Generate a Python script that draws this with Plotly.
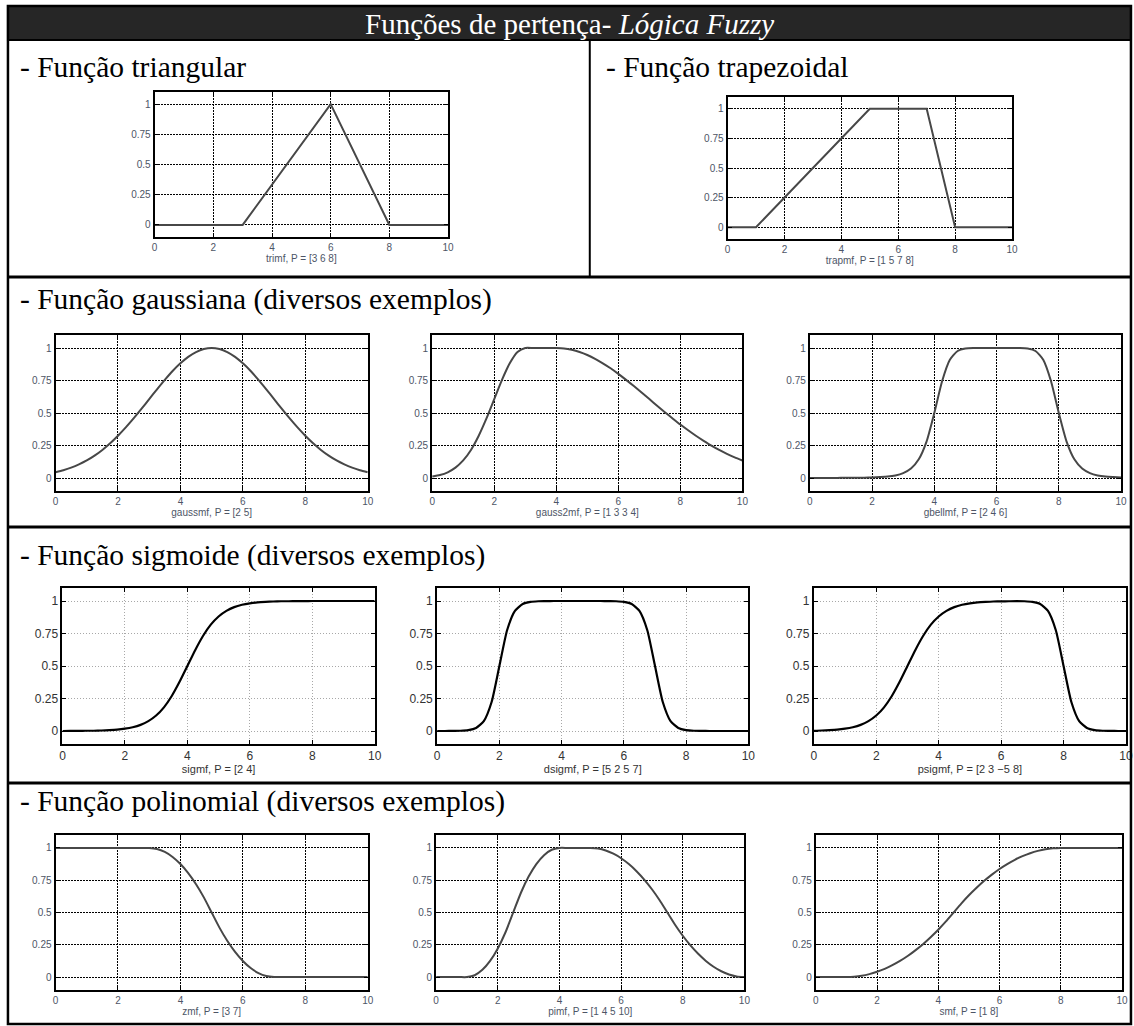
import plotly.graph_objects as go

# ---------------- data ----------------
X_TRI = [0, 3, 6, 8, 10]
Y_TRI = [0, 0, 1, 0, 0]

X_TRAP = [0, 1, 5, 7, 8, 10]
Y_TRAP = [0, 0, 1, 1, 0, 0]

X_SMOOTH = [0, 0.25, 0.5, 0.75, 1, 1.25, 1.5, 1.75, 2, 2.25, 2.5, 2.75, 3, 3.25, 3.5, 3.75,
            4, 4.25, 4.5, 4.75, 5, 5.25, 5.5, 5.75, 6, 6.25, 6.5, 6.75, 7, 7.25, 7.5, 7.75,
            8, 8.25, 8.5, 8.75, 9, 9.25, 9.5, 9.75, 10]

Y_GAUSS = [0.044, 0.060, 0.080, 0.105, 0.135, 0.172, 0.216, 0.267, 0.325, 0.389, 0.458, 0.531, 0.607, 0.682, 0.755, 0.823,
           0.882, 0.932, 0.969, 0.992, 1.000, 0.992, 0.969, 0.932, 0.882, 0.823, 0.755, 0.682, 0.607, 0.531, 0.458, 0.389,
           0.325, 0.267, 0.216, 0.172, 0.135, 0.105, 0.080, 0.060, 0.044]

Y_GAUSS2 = [0.011, 0.023, 0.044, 0.080, 0.135, 0.216, 0.325, 0.458, 0.607, 0.755, 0.882, 0.969, 1.0, 1.0, 1.0, 1.0,
            1.0, 0.997, 0.986, 0.969, 0.946, 0.917, 0.882, 0.844, 0.801, 0.755, 0.707, 0.657, 0.607, 0.556, 0.506, 0.458,
            0.411, 0.367, 0.325, 0.286, 0.249, 0.216, 0.186, 0.159, 0.135]

Y_GBELL = [0.000, 0.000, 0.000, 0.000, 0.001, 0.001, 0.002, 0.002, 0.004, 0.007, 0.011, 0.020, 0.038, 0.073, 0.144, 0.280,
           0.500, 0.744, 0.909, 0.977, 0.996, 1.0, 1.0, 1.0, 1.0, 1.0, 1.0, 1.0, 0.996, 0.977, 0.909, 0.744,
           0.500, 0.280, 0.144, 0.073, 0.038, 0.020, 0.011, 0.007, 0.004]

Y_SIG = [0.000, 0.001, 0.001, 0.002, 0.002, 0.004, 0.007, 0.011, 0.018, 0.029, 0.047, 0.076, 0.119, 0.182, 0.269, 0.378,
         0.500, 0.622, 0.731, 0.818, 0.881, 0.924, 0.953, 0.971, 0.982, 0.989, 0.993, 0.996, 0.998, 0.998, 0.999, 0.999,
         1.0, 1.0, 1.0, 1.0, 1.0, 1.0, 1.0, 1.0, 1.0]

Y_DSIG = [0.000, 0.000, 0.001, 0.002, 0.007, 0.023, 0.076, 0.223, 0.500, 0.777, 0.924, 0.977, 0.993, 0.998, 0.999, 1.0,
          1.0, 1.0, 1.0, 1.0, 1.0, 1.0, 0.999, 0.998, 0.993, 0.977, 0.924, 0.777, 0.500, 0.223, 0.076, 0.023,
          0.007, 0.002, 0.001, 0.000, 0.000, 0.000, 0.000, 0.000, 0.000]

Y_PSIG = [0.002, 0.004, 0.007, 0.011, 0.018, 0.029, 0.047, 0.076, 0.119, 0.182, 0.269, 0.378, 0.500, 0.622, 0.731, 0.818,
          0.881, 0.924, 0.953, 0.971, 0.982, 0.989, 0.993, 0.996, 0.997, 0.998, 0.999, 0.998, 0.993, 0.977, 0.924, 0.777,
          0.500, 0.223, 0.076, 0.023, 0.007, 0.002, 0.001, 0.000, 0.000]

Y_ZMF = [1.0, 1.0, 1.0, 1.0, 1.0, 1.0, 1.0, 1.0, 1.0, 1.0, 1.0, 1.0, 1.0, 0.992, 0.969, 0.930,
         0.875, 0.805, 0.719, 0.617, 0.500, 0.383, 0.281, 0.195, 0.125, 0.070, 0.031, 0.008, 0.000, 0.0, 0.0, 0.0,
         0.0, 0.0, 0.0, 0.0, 0.0, 0.0, 0.0, 0.0, 0.0]

Y_PIMF = [0.0, 0.0, 0.0, 0.0, 0.0, 0.014, 0.056, 0.125, 0.222, 0.347, 0.500, 0.653, 0.778, 0.875, 0.944, 0.986,
          1.0, 1.0, 1.0, 1.0, 1.0, 0.995, 0.980, 0.955, 0.920, 0.875, 0.820, 0.755, 0.680, 0.595, 0.500, 0.405,
          0.320, 0.245, 0.180, 0.125, 0.080, 0.045, 0.020, 0.005, 0.000]

Y_SMF = [0.0, 0.0, 0.0, 0.0, 0.0, 0.003, 0.010, 0.023, 0.041, 0.064, 0.092, 0.125, 0.163, 0.207, 0.255, 0.309,
         0.367, 0.431, 0.500, 0.569, 0.633, 0.691, 0.745, 0.793, 0.837, 0.875, 0.908, 0.936, 0.959, 0.977, 0.990, 0.997,
         1.0, 1.0, 1.0, 1.0, 1.0, 1.0, 1.0, 1.0, 1.0]

X_TICKS = [0, 2, 4, 6, 8, 10]
Y_TICKS = [0, 0.25, 0.5, 0.75, 1]
Y_TICK_TEXT = ["0", "0.25", "0.5", "0.75", "1"]

HEADER = "Funções de pertença- <i>Lógica Fuzzy</i>"
ROW_LABELS = ["- Função triangular", "- Função trapezoidal",
              "- Função gaussiana (diversos exemplos)",
              "- Função sigmoide (diversos exemplos)",
              "- Função polinomial (diversos exemplos)"]

XLABELS = ["trimf, P = [3 6 8]", "trapmf, P = [1 5 7 8]",
           "gaussmf, P = [2 5]", "gauss2mf, P = [1 3 3 4]", "gbellmf, P = [2 4 6]",
           "sigmf, P = [2 4]", "dsigmf, P = [5 2 5 7]", "psigmf, P = [2 3 \u22125 8]",
           "zmf, P = [3 7]", "pimf, P = [1 4 5 10]", "smf, P = [1 8]"]

SERIES = [(X_TRI, Y_TRI), (X_TRAP, Y_TRAP),
          (X_SMOOTH, Y_GAUSS), (X_SMOOTH, Y_GAUSS2), (X_SMOOTH, Y_GBELL),
          (X_SMOOTH, Y_SIG), (X_SMOOTH, Y_DSIG), (X_SMOOTH, Y_PSIG),
          (X_SMOOTH, Y_ZMF), (X_SMOOTH, Y_PIMF), (X_SMOOTH, Y_SMF)]

# ---------------- layout geometry (pixels) ----------------
W, H = 1134, 1026


def fx(p):
    return p / W


def fy(p):
    return 1 - p / H


# box: x0, x1, ytop, ybottom ; style
BOXES = [
    (153, 449, 92, 237, "old"), (731, 1018, 97, 239, "old"),
    (53, 368, 335, 491, "old"), (433, 746, 335, 491, "old"), (814, 1128, 335, 491, "old"),
    (60, 375, 588, 744, "new"), (438, 752, 588, 744, "new"), (818, 1133, 588, 744, "new"),
    (53, 368, 835, 990, "old"), (437, 748, 835, 990, "old"), (820, 1129, 835, 990, "old"),
]

fig = go.Figure()
layout = dict(
    width=W, height=H, margin=dict(l=0, r=0, t=0, b=0),
    paper_bgcolor="white", plot_bgcolor="white", showlegend=False,
)

for i, ((xs, ys), (x0, x1, yt, yb, style), xl) in enumerate(zip(SERIES, BOXES, XLABELS)):
    n = i + 1
    sfx = "" if n == 1 else str(n)
    smooth = xs is X_SMOOTH
    if style == "old":
        lc, lw = "#474747", 2.0
    else:
        lc, lw = "#000000", 2.2
    fig.add_trace(go.Scatter(
        x=xs, y=ys, mode="lines",
        line=dict(color=lc, width=lw, shape="spline" if smooth else "linear",
                  smoothing=0.6 if smooth else None),
        xaxis="x" + sfx, yaxis="y" + sfx, hoverinfo="skip"))
    if style == "old":
        grid = dict(showgrid=True, gridcolor="#000000", gridwidth=1.2, griddash="2px,1px")
        tf = dict(family="Liberation Sans, Arial", size=10, color="#4d5566")
        tif = dict(family="Liberation Sans, Arial", size=10, color="#4d5566")
    else:
        grid = dict(showgrid=True, gridcolor="#a8a8a8", gridwidth=1, griddash="1px,2px")
        tf = dict(family="Liberation Sans, Arial", size=12, color="#333333")
        tif = dict(family="Liberation Sans, Arial", size=11, color="#333333")
    common = dict(showline=True, linecolor="black", linewidth=2, mirror="ticks",
                  ticks="inside", ticklen=4, tickcolor="black", zeroline=False,
                  tickfont=tf, fixedrange=True, **grid)
    layout["xaxis" + sfx] = dict(
        domain=[fx(x0), fx(x1)], anchor="y" + sfx, range=[0, 10],
        tickmode="array", tickvals=X_TICKS,
        title=dict(text=xl, font=tif, standoff=2), **common)
    layout["yaxis" + sfx] = dict(
        domain=[fy(yb), fy(yt)], anchor="x" + sfx, range=[-0.1, 1.1],
        tickmode="array", tickvals=Y_TICKS, ticktext=Y_TICK_TEXT, **common)

fig.update_layout(**layout)

# ---------------- table frame ----------------
LEFT, RIGHT, TOP, BOTTOM = 5, 1138, 6, 1024
HEAD_BOTTOM = 40
ROW_LINES = [277, 527, 783]
DIVIDER_X = 592

shapes = [
    dict(type="rect", xref="paper", yref="paper", x0=fx(LEFT), x1=fx(RIGHT), y0=fy(HEAD_BOTTOM), y1=fy(TOP),
         fillcolor="#262626", line=dict(color="black", width=2)),
    dict(type="rect", xref="paper", yref="paper", x0=fx(LEFT), x1=fx(RIGHT), y0=fy(BOTTOM), y1=fy(TOP),
         line=dict(color="black", width=2.5)),
    dict(type="line", xref="paper", yref="paper", x0=fx(DIVIDER_X), x1=fx(DIVIDER_X),
         y0=fy(ROW_LINES[0]), y1=fy(HEAD_BOTTOM), line=dict(color="black", width=2)),
]
for r in ROW_LINES:
    shapes.append(dict(type="line", xref="paper", yref="paper", x0=fx(LEFT), x1=fx(RIGHT),
                       y0=fy(r), y1=fy(r), line=dict(color="black", width=3)))

serif = "Liberation Serif, Times New Roman, serif"
annotations = [
    dict(text=HEADER, xref="paper", yref="paper", x=fx(572), y=fy(24),
         xanchor="center", yanchor="middle", showarrow=False,
         font=dict(family=serif, size=29, color="white")),
]
LABEL_POS = [(15, 67), (606, 67), (15, 299), (15, 555), (15, 801)]
for txt, (lx, ly) in zip(ROW_LABELS, LABEL_POS):
    annotations.append(dict(text=txt, xref="paper", yref="paper", x=fx(lx), y=fy(ly),
                            xanchor="left", yanchor="middle", showarrow=False,
                            font=dict(family=serif, size=29.5, color="black")))

fig.update_layout(shapes=shapes, annotations=annotations)
fig.write_html("out.html", config={"displayModeBar": False},
               post_script="document.body.style.margin='0';")
